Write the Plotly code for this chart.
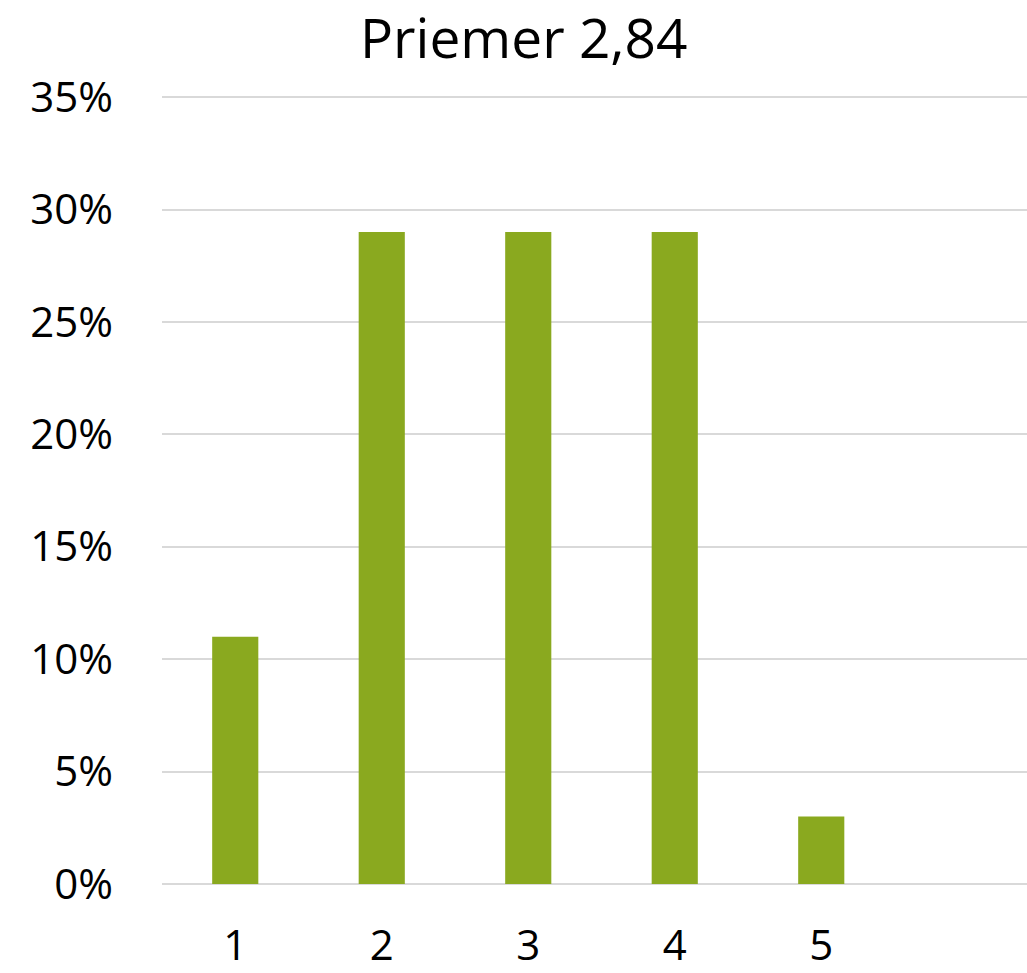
import plotly.graph_objects as go

categories = [1, 2, 3, 4, 5]
values = [0.11, 0.29, 0.29, 0.29, 0.03]
title_text = "Priemer 2,84"
y_ticks = [0, 0.05, 0.10, 0.15, 0.20, 0.25, 0.30, 0.35]
y_tick_labels = ["0%", "5%", "10%", "15%", "20%", "25%", "30%", "35%"]

font_family = "Open Sans, Noto Sans, Roboto, Arial, sans-serif"

W, H = 1027, 973
px_per_cat = 146.5
plot_left = 162

fig = go.Figure(go.Bar(
    x=categories, y=values, width=0.315,
    marker=dict(color="#8AA91F", line=dict(width=0)),
))

fig.update_layout(
    width=W, height=H,
    margin=dict(l=plot_left, r=0, t=96, b=89, pad=0),
    paper_bgcolor="white", plot_bgcolor="white",
    showlegend=False,
    title=dict(text=title_text, x=0.51, xanchor="center", y=0.960, yanchor="middle",
               font=dict(family=font_family, size=55, color="black")),
    font=dict(family=font_family, color="black"),
)
fig.update_xaxes(
    range=[0.5, 0.5 + (W - plot_left) / px_per_cat],
    tickvals=categories, ticktext=[str(c) for c in categories],
    tickfont=dict(size=42), showgrid=False, zeroline=False, automargin=False,
    showline=False, ticks="", ticklabelstandoff=33, fixedrange=True,
)
fig.update_yaxes(
    range=[0, 0.3505], tickvals=y_ticks, ticktext=y_tick_labels,
    tickfont=dict(size=42), showgrid=True, gridcolor="#D9D9D9", gridwidth=2,
    zeroline=True, zerolinecolor="#D9D9D9", zerolinewidth=2, automargin=False,
    showline=False, ticks="", ticklabelstandoff=48, fixedrange=True,
)

fig.write_html(
    "out.html",
    config={"displayModeBar": False},
    post_script="document.body.style.margin='0';document.body.style.overflow='hidden';",
)
